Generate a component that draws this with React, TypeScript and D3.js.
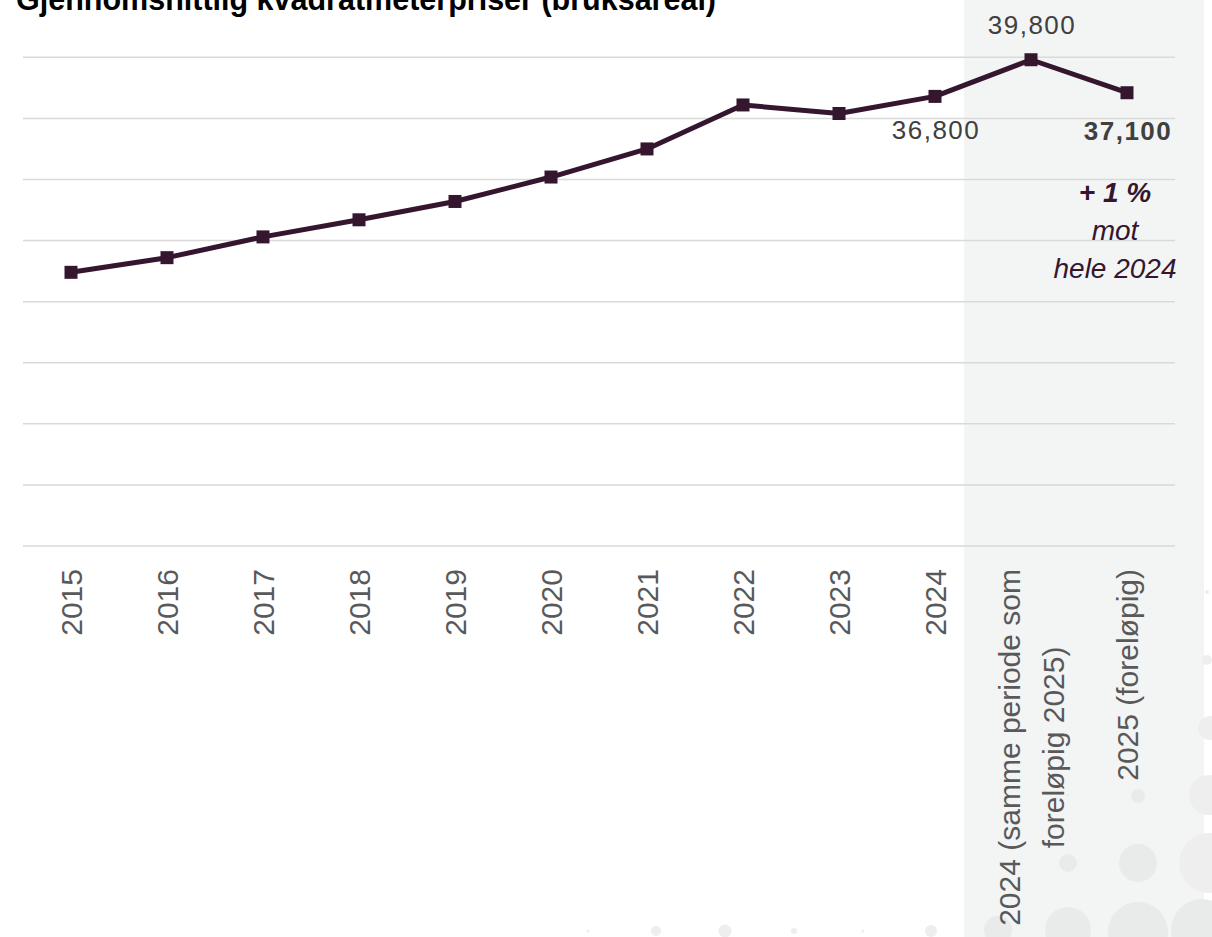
import { useEffect, useRef } from "react";
import * as d3 from "d3";

// Category labels (one entry per line of the label)
const categories: string[][] = [
  ["2015"],
  ["2016"],
  ["2017"],
  ["2018"],
  ["2019"],
  ["2020"],
  ["2021"],
  ["2022"],
  ["2023"],
  ["2024"],
  ["2024 (samme periode som", "foreløpig 2025)"],
  ["2025 (foreløpig)"],
];

// Average price per square metre (NOK)
const prices = [
  22400, 23600, 25300, 26700, 28200, 30200, 32500, 36100, 35400, 36800, 39800,
  37100,
];

const yTicks = [0, 5000, 10000, 15000, 20000, 25000, 30000, 35000, 40000];

// data labels: index, placement, bold
const labelledPoints: { index: number; place: "above" | "below"; bold: boolean }[] = [
  { index: 9, place: "below", bold: false },
  { index: 10, place: "above", bold: false },
  { index: 11, place: "below", bold: true },
];

const noteLines = ["+ 1 %", "mot", "hele 2024"];

const title = "Gjennomsnittlig kvadratmeterpriser (bruksareal)";

// background decoration dots: [cx, cy, r]
const decoDots: [number, number, number][] = [
  [588, 931, 1.5],
  [656, 931, 5],
  [725, 931, 6.5],
  [794, 931, 3],
  [863, 931, 1.5],
  [931, 931, 6],
  [998, 930, 14],
  [1068, 930, 23],
  [1138, 932, 30],
  [1202, 930, 31],
  [1001, 863, 2],
  [1068, 863, 9],
  [1138, 863, 19],
  [1209, 863, 30],
  [1068, 795, 1],
  [1138, 796, 7],
  [1209, 795, 20],
  [1210, 728, 12],
  [1207, 660, 5],
  [1207, 592, 2],
];

const width = 1212;
const height = 937;

export default function App() {
  const ref = useRef<SVGSVGElement | null>(null);

  useEffect(() => {
    document.body.style.margin = "0";
    document.body.style.overflow = "hidden";
    const svgEl = ref.current;
    if (!svgEl) return;

    const svg = d3.select(svgEl);
    svg.selectAll("*").remove();

    const margin = { left: 23, right: 37, top: 57.3, bottom: 391 };
    const plotBottom = height - margin.bottom;

    const xScale = d3
      .scaleBand<number>()
      .domain(d3.range(categories.length))
      .range([margin.left, width - margin.right])
      .padding(0);

    const yScale = d3
      .scaleLinear()
      .domain([0, 40000])
      .range([plotBottom, margin.top]);

    const cx = (i: number) => (xScale(i) ?? 0) + xScale.bandwidth() / 2;

    // shaded background panel
    svg
      .append("rect")
      .attr("x", 964)
      .attr("y", 0)
      .attr("width", 240)
      .attr("height", height)
      .attr("fill", "#f3f4f4");

    svg
      .append("g")
      .selectAll("circle")
      .data(decoDots)
      .join("circle")
      .attr("cx", (d) => d[0])
      .attr("cy", (d) => d[1])
      .attr("r", (d) => d[2])
      .attr("fill", (d) => (d[0] > 960 && d[0] < 1204 ? "#e9eaea" : "#eeeeee"));

    // gridlines
    svg
      .append("g")
      .selectAll("line")
      .data(yTicks)
      .join("line")
      .attr("x1", margin.left)
      .attr("x2", width - margin.right)
      .attr("y1", (d) => yScale(d))
      .attr("y2", (d) => yScale(d))
      .attr("stroke", "#d9d9d9")
      .attr("stroke-width", 1.5);

    // x-axis labels (rotated)
    const labelTop = 569;
    const lineGap = 44;
    const labelGroups = svg
      .append("g")
      .selectAll("g")
      .data(categories)
      .join("g")
      .attr("transform", (_, i) => `translate(${cx(i)},${labelTop}) rotate(-90)`);

    labelGroups.each(function (lines) {
      const g = d3.select(this);
      const texts = lines.map((line, j) =>
        g
          .append("text")
          .attr("y", (j - (lines.length - 1) / 2) * lineGap + 11)
          .attr("font-family", "'Liberation Sans', Arial, sans-serif")
          .attr("font-size", 30)
          .attr("fill", "#595959")
          .text(line),
      );
      if (lines.length === 1) {
        texts[0].attr("text-anchor", "end").attr("x", 0);
      } else {
        const widest = d3.max(texts, (t) => (t.node() as SVGTextElement).getComputedTextLength()) ?? 0;
        texts.forEach((t) => t.attr("text-anchor", "middle").attr("x", -widest / 2));
      }
    });

    // line
    const line = d3
      .line<number>()
      .x((_, i) => cx(i))
      .y((d) => yScale(d));

    svg
      .append("path")
      .datum(prices)
      .attr("d", line)
      .attr("fill", "none")
      .attr("stroke", "#35162f")
      .attr("stroke-width", 5)
      .attr("stroke-linejoin", "round");

    const marker = 13;
    svg
      .append("g")
      .selectAll("rect")
      .data(prices)
      .join("rect")
      .attr("x", (_, i) => cx(i) - marker / 2)
      .attr("y", (d) => yScale(d) - marker / 2)
      .attr("width", marker)
      .attr("height", marker)
      .attr("fill", "#35162f");

    // data labels
    svg
      .append("g")
      .selectAll("text")
      .data(labelledPoints)
      .join("text")
      .attr("x", (d) => cx(d.index) + 1)
      .attr("y", (d) =>
        d.place === "above" ? yScale(prices[d.index]) - 26 : yScale(prices[d.index]) + (d.index === 9 ? 43 : 47),
      )
      .attr("text-anchor", "middle")
      .attr("font-family", "'Liberation Sans', Arial, sans-serif")
      .attr("font-size", 26)
      .attr("letter-spacing", 1.5)
      .attr("font-weight", (d) => (d.bold ? 700 : 400))
      .attr("fill", "#404040")
      .text((d) => d3.format(",")(prices[d.index]));

    // change note
    const last = prices.length - 1;
    svg
      .append("g")
      .selectAll("text")
      .data(noteLines)
      .join("text")
      .attr("x", cx(last) - 12)
      .attr("y", (_, i) => yScale(prices[last]) + 109 + i * 38)
      .attr("text-anchor", "middle")
      .attr("font-family", "'Liberation Sans', Arial, sans-serif")
      .attr("font-size", 28)
      .attr("font-style", "italic")
      .attr("font-weight", (_, i) => (i === 0 ? 700 : 400))
      .attr("fill", "#35162f")
      .text((d) => d);

    // title (cut off at top edge)
    svg
      .append("text")
      .attr("x", 16)
      .attr("y", 10)
      .attr("font-family", "'Liberation Sans', Arial, sans-serif")
      .attr("font-size", 30.5)
      .attr("font-weight", 700)
      .attr("fill", "#000000")
      .text(title);
  }, []);

  return (
    <svg
      ref={ref}
      width={width}
      height={height}
      viewBox={`0 0 ${width} ${height}`}
      style={{ display: "block", background: "#ffffff" }}
    />
  );
}
